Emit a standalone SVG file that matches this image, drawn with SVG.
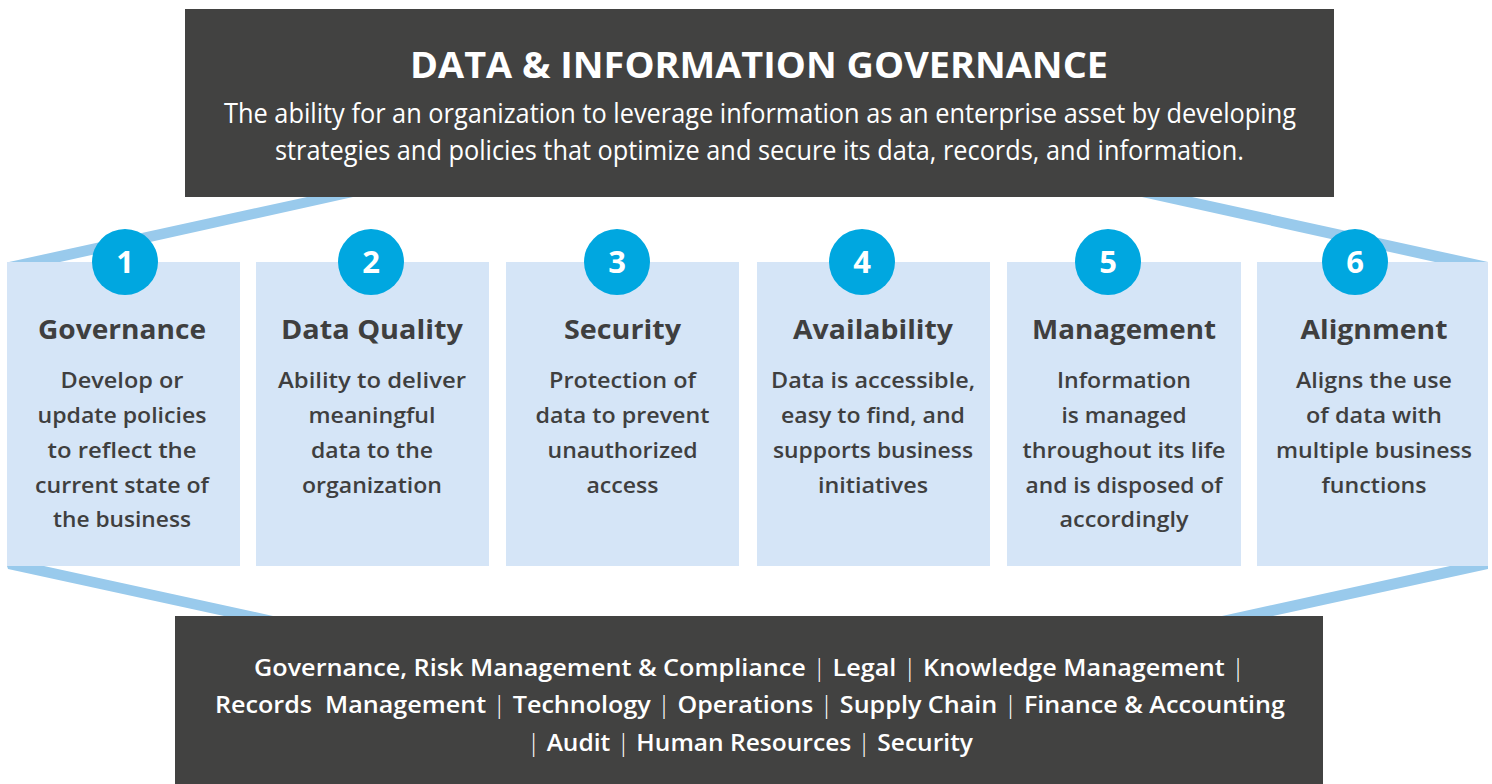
<svg xmlns="http://www.w3.org/2000/svg" width="1492" height="784" viewBox="0 0 1492 784">
<style>
.dark{fill:#424241}
.card{fill:#d5e5f7}
.band{fill:#99caec}
.circ{fill:#00a7e0}
.ttl{font-family:"Open Sans","Noto Sans",sans-serif;font-weight:700;fill:#ffffff;font-size:35px;text-anchor:middle}
.sub{font-family:"Open Sans","Noto Sans",sans-serif;font-weight:400;fill:#ffffff;font-size:28px;text-anchor:middle}
.num{font-family:"Open Sans","Noto Sans",sans-serif;font-weight:700;fill:#ffffff;font-size:31px;text-anchor:middle}
.ct{font-family:"Open Sans","Noto Sans",sans-serif;font-weight:700;fill:#3f3f3f;font-size:27px;text-anchor:middle}
.cb{font-family:"Open Sans","Noto Sans",sans-serif;font-weight:600;fill:#3f3f3f;font-size:22px;text-anchor:middle}
.bt{font-family:"Open Sans","Noto Sans",sans-serif;font-weight:600;fill:#ffffff;font-size:24px;text-anchor:middle}
.bar{font-weight:300}
</style>
<g id="connectors">
<polygon class="band" points="307,197 353,197 60,262 9,262"/>
<polygon class="band" points="1142,197 1192,197 1488,262 1435,262"/>
<polygon class="band" points="7,566 44,566 273,616 224,616 8,569"/>
<polygon class="band" points="1450,566 1488,566 1488,569 1273,616 1222,616"/>
</g>
<g id="header">
<rect class="dark" x="185" y="9" width="1149" height="188"/>
<text class="ttl" x="759" y="78" textLength="698" lengthAdjust="spacingAndGlyphs">DATA &amp; INFORMATION GOVERNANCE</text>
<text class="sub" x="760" y="123" textLength="1072" lengthAdjust="spacingAndGlyphs">The ability for an organization to leverage information as an enterprise asset by developing</text>
<text class="sub" x="759.5" y="160" textLength="969" lengthAdjust="spacingAndGlyphs">strategies and policies that optimize and secure its data, records, and information.</text>
</g>
<g id="card1">
<rect class="card" x="7" y="262" width="233" height="304"/>
<circle class="circ" cx="125" cy="262" r="33"/>
<text class="num" x="125" y="273">1</text>
<text class="ct" x="122" y="339" textLength="168" lengthAdjust="spacingAndGlyphs">Governance</text>
<text class="cb" x="122" y="388" textLength="123" lengthAdjust="spacingAndGlyphs">Develop or</text>
<text class="cb" x="122" y="423" textLength="169" lengthAdjust="spacingAndGlyphs">update policies</text>
<text class="cb" x="122" y="458" textLength="149" lengthAdjust="spacingAndGlyphs">to reflect the</text>
<text class="cb" x="122" y="493" textLength="174" lengthAdjust="spacingAndGlyphs">current state of</text>
<text class="cb" x="122" y="527" textLength="138" lengthAdjust="spacingAndGlyphs">the business</text>
</g>
<g id="card2">
<rect class="card" x="256" y="262" width="233" height="304"/>
<circle class="circ" cx="371" cy="262" r="33"/>
<text class="num" x="371" y="273">2</text>
<text class="ct" x="372" y="339" textLength="182" lengthAdjust="spacingAndGlyphs">Data Quality</text>
<text class="cb" x="372" y="388" textLength="188" lengthAdjust="spacingAndGlyphs">Ability to deliver</text>
<text class="cb" x="372" y="423" textLength="127" lengthAdjust="spacingAndGlyphs">meaningful</text>
<text class="cb" x="372" y="458" textLength="122" lengthAdjust="spacingAndGlyphs">data to the</text>
<text class="cb" x="372" y="493" textLength="140" lengthAdjust="spacingAndGlyphs">organization</text>
</g>
<g id="card3">
<rect class="card" x="506" y="262" width="233" height="304"/>
<circle class="circ" cx="617" cy="262" r="33"/>
<text class="num" x="617" y="273">3</text>
<text class="ct" x="622.5" y="339" textLength="117" lengthAdjust="spacingAndGlyphs">Security</text>
<text class="cb" x="622.5" y="388" textLength="147" lengthAdjust="spacingAndGlyphs">Protection of</text>
<text class="cb" x="622.5" y="423" textLength="174" lengthAdjust="spacingAndGlyphs">data to prevent</text>
<text class="cb" x="622.5" y="458" textLength="150" lengthAdjust="spacingAndGlyphs">unauthorized</text>
<text class="cb" x="622.5" y="493" textLength="72" lengthAdjust="spacingAndGlyphs">access</text>
</g>
<g id="card4">
<rect class="card" x="757" y="262" width="233" height="304"/>
<circle class="circ" cx="862" cy="262" r="33"/>
<text class="num" x="862" y="273">4</text>
<text class="ct" x="873" y="339" textLength="160" lengthAdjust="spacingAndGlyphs">Availability</text>
<text class="cb" x="873" y="388" textLength="204" lengthAdjust="spacingAndGlyphs">Data is accessible,</text>
<text class="cb" x="873" y="423" textLength="184" lengthAdjust="spacingAndGlyphs">easy to find, and</text>
<text class="cb" x="873" y="458" textLength="200" lengthAdjust="spacingAndGlyphs">supports business</text>
<text class="cb" x="873" y="493" textLength="110" lengthAdjust="spacingAndGlyphs">initiatives</text>
</g>
<g id="card5">
<rect class="card" x="1007" y="262" width="234" height="304"/>
<circle class="circ" cx="1108" cy="262" r="33"/>
<text class="num" x="1108" y="273">5</text>
<text class="ct" x="1124" y="339" textLength="184" lengthAdjust="spacingAndGlyphs">Management</text>
<text class="cb" x="1124" y="388" textLength="134" lengthAdjust="spacingAndGlyphs">Information</text>
<text class="cb" x="1124" y="423" textLength="125" lengthAdjust="spacingAndGlyphs">is managed</text>
<text class="cb" x="1124" y="458" textLength="203" lengthAdjust="spacingAndGlyphs">throughout its life</text>
<text class="cb" x="1124" y="493" textLength="197" lengthAdjust="spacingAndGlyphs">and is disposed of</text>
<text class="cb" x="1124" y="527" textLength="129" lengthAdjust="spacingAndGlyphs">accordingly</text>
</g>
<g id="card6">
<rect class="card" x="1257" y="262" width="231" height="304"/>
<circle class="circ" cx="1355" cy="262" r="33"/>
<text class="num" x="1355" y="273">6</text>
<text class="ct" x="1374" y="339" textLength="147" lengthAdjust="spacingAndGlyphs">Alignment</text>
<text class="cb" x="1374" y="388" textLength="156" lengthAdjust="spacingAndGlyphs">Aligns the use</text>
<text class="cb" x="1374" y="423" textLength="136" lengthAdjust="spacingAndGlyphs">of data with</text>
<text class="cb" x="1374" y="458" textLength="196" lengthAdjust="spacingAndGlyphs">multiple business</text>
<text class="cb" x="1374" y="493" textLength="105" lengthAdjust="spacingAndGlyphs">functions</text>
</g>
<g id="footer">
<rect class="dark" x="175" y="616" width="1148" height="168"/>
<text class="bt" x="749.5" y="676" textLength="991" lengthAdjust="spacingAndGlyphs">Governance, Risk Management &amp; Compliance <tspan class="bar">|</tspan> Legal <tspan class="bar">|</tspan> Knowledge Management <tspan class="bar">|</tspan></text>
<text class="bt" x="750" y="713" textLength="1070" lengthAdjust="spacingAndGlyphs" xml:space="preserve">Records  Management <tspan class="bar">|</tspan> Technology <tspan class="bar">|</tspan> Operations <tspan class="bar">|</tspan> Supply Chain <tspan class="bar">|</tspan> Finance &amp; Accounting</text>
<text class="bt" x="750" y="751" textLength="446" lengthAdjust="spacingAndGlyphs"><tspan class="bar">|</tspan> Audit <tspan class="bar">|</tspan> Human Resources <tspan class="bar">|</tspan> Security</text>
</g>
</svg>
